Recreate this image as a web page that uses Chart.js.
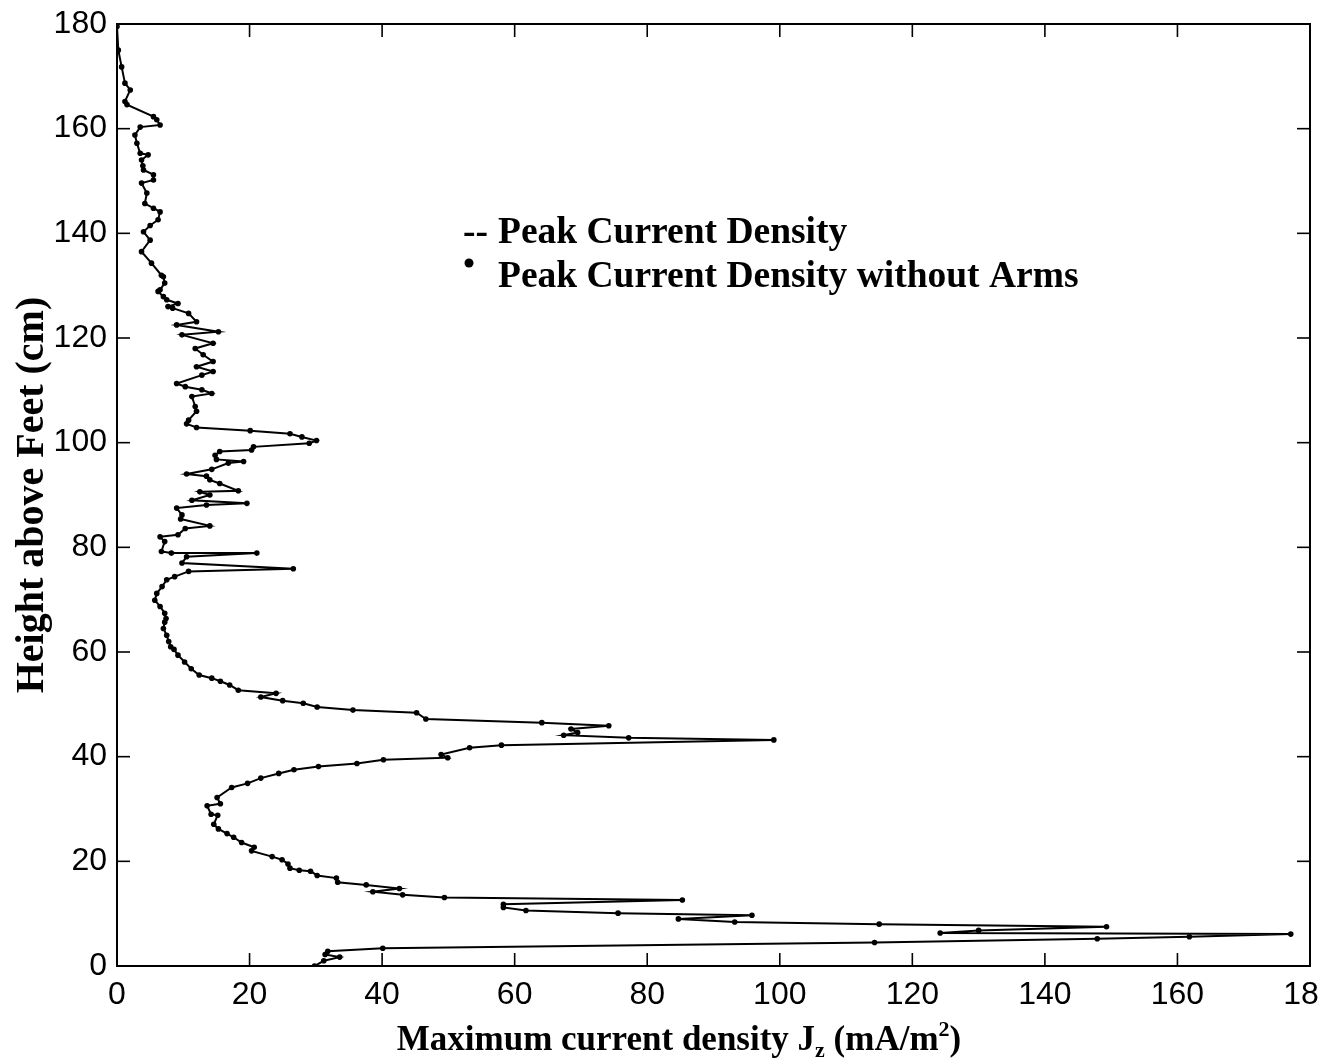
<!DOCTYPE html>
<html>
<head>
<meta charset="utf-8">
<script src="https://cdn.jsdelivr.net/npm/chart.js@4.4.1/dist/chart.umd.min.js"></script>
<style>
  html, body { margin: 0; padding: 0; background: #fff; }
  #wrap { width: 1320px; height: 1063px; }
</style>
</head>
<body>
<div id="wrap"><canvas id="c" width="1320" height="1063"></canvas></div>
<script>
// Maximum current density Jz (mA/m^2), ordered along the curve from the feet up
const currentDensity = [
  29.8, 31.2, 33.6, 31.4, 31.8, 40.1, 114.3, 147.9, 161.8, 177.1,
  124.2, 130.0, 149.3, 115.0, 93.2, 84.7, 95.8, 75.6, 61.7, 58.3,
  58.3, 85.3, 49.4, 43.1, 38.6, 42.6, 37.6, 33.3, 33.1, 30.2,
  29.2, 27.5, 26.1, 25.8, 24.9, 23.4, 20.3, 20.7, 18.8, 17.6,
  16.6, 15.3, 14.6, 15.2, 14.2, 13.6, 15.6, 15.1, 17.3, 19.7,
  21.7, 24.4, 26.7, 30.4, 36.2, 40.2, 49.9, 48.9, 53.2, 58.0,
  99.1, 77.2, 67.4, 69.5, 68.5, 74.2, 64.1, 46.6, 45.2, 35.6,
  30.2, 28.1, 25.0, 21.7, 24.0, 18.3, 17.0, 15.6, 14.3, 12.4,
  11.2, 10.2, 9.2, 8.6, 8.1, 7.8, 7.5, 7.0, 7.2, 7.4,
  7.2, 6.5, 5.7, 6.0, 6.8, 7.5, 8.7, 10.8, 26.6, 9.8,
  10.5, 21.1, 8.2, 6.7, 7.2, 6.5, 9.2, 10.3, 14.0, 9.6,
  9.8, 9.0, 13.5, 19.6, 11.3, 14.0, 12.5, 18.3, 15.5, 14.0,
  13.5, 10.5, 14.3, 16.8, 19.1, 15.0, 14.8, 15.5, 20.3, 20.6,
  29.0, 30.1, 27.9, 26.1, 20.1, 12.0, 10.5, 10.8, 12.0, 11.8,
  11.3, 14.3, 12.8, 10.3, 9.0, 12.8, 14.5, 12.0, 14.5, 13.0,
  11.8, 14.5, 9.8, 15.3, 9.0, 12.0, 10.8, 8.4, 7.7, 9.2,
  7.5, 7.0, 6.2, 6.5, 7.2, 7.0, 6.7, 5.2, 3.7, 5.0,
  4.0, 5.0, 6.2, 6.5, 5.5, 4.2, 4.5, 3.7, 5.5, 5.5,
  4.0, 3.9, 3.7, 4.7, 3.5, 3.0, 2.7, 3.5, 6.5, 6.0,
  5.5, 1.5, 1.2, 2.0, 1.2, 0.7, 0.2, 0.0
];
// Height above feet (cm) for each point above
const heightCm = [
  0.0, 1.0, 1.7, 2.2, 2.8, 3.4, 4.5, 5.2, 5.6, 6.1,
  6.3, 6.8, 7.5, 8.0, 8.4, 9.0, 9.7, 10.1, 10.6, 11.2,
  11.8, 12.6, 13.1, 13.6, 14.2, 14.8, 15.5, 16.0, 16.8, 17.3,
  18.1, 18.3, 18.7, 19.5, 20.3, 20.9, 22.0, 22.7, 23.6, 24.6,
  25.3, 26.2, 27.1, 28.8, 29.0, 30.6, 31.0, 32.2, 34.1, 34.9,
  35.9, 36.8, 37.5, 38.1, 38.7, 39.4, 39.8, 40.4, 41.7, 42.2,
  43.2, 43.6, 44.1, 44.6, 45.3, 45.9, 46.5, 47.2, 48.4, 48.9,
  49.5, 50.2, 50.7, 51.4, 52.1, 52.7, 53.7, 54.4, 55.0, 55.6,
  56.8, 58.1, 59.4, 60.5, 61.0, 62.0, 63.2, 64.5, 65.7, 66.4,
  67.4, 68.7, 69.9, 71.2, 72.5, 73.8, 74.4, 75.4, 75.9, 77.0,
  78.2, 78.9, 78.9, 79.2, 81.1, 82.0, 82.4, 83.6, 84.1, 85.4,
  86.2, 87.5, 88.1, 88.4, 89.0, 90.0, 90.6, 90.8, 92.2, 92.9,
  93.6, 94.0, 94.9, 96.1, 96.4, 96.8, 97.6, 98.3, 98.6, 99.2,
  99.9, 100.4, 101.1, 101.7, 102.3, 102.9, 103.6, 104.3, 106.0, 106.9,
  108.8, 109.4, 110.1, 110.7, 111.3, 112.9, 113.6, 114.5, 115.5, 116.8,
  118.0, 119.0, 120.6, 121.2, 122.5, 123.1, 124.7, 125.7, 126.0, 126.6,
  127.3, 127.9, 128.9, 129.2, 130.5, 131.7, 132.0, 134.3, 136.5, 138.7,
  140.3, 141.5, 142.6, 144.1, 144.8, 145.7, 147.7, 149.6, 150.2, 151.2,
  152.1, 152.9, 154.0, 155.0, 155.3, 157.2, 158.8, 160.3, 160.7, 161.7,
  162.3, 164.6, 165.2, 167.4, 168.7, 171.8, 175.0, 179.5
];
const xTickValues = [0, 20, 40, 60, 80, 100, 120, 140, 160, 180];
const yTickValues = [0, 20, 40, 60, 80, 100, 120, 140, 160, 180];
const seriesNames = ['Peak Current Density', 'Peak Current Density without Arms'];
const xTitleParts = ['Maximum current density J', 'z', ' (mA/m', '2', ')'];
const yTitle = 'Height above Feet (cm)';

const points = currentDensity.map((v, i) => ({ x: v, y: heightCm[i] }));

const SANS = '"Liberation Sans", Arial, sans-serif';
const SERIF = '"Liberation Serif", "Times New Roman", serif';

const decor = {
  id: 'decor',
  afterDraw(chart) {
    const { ctx, chartArea: a, scales: { x, y } } = chart;
    ctx.save();
    ctx.strokeStyle = '#000';
    ctx.fillStyle = '#000';
    ctx.lineWidth = 2;
    ctx.strokeRect(a.left, a.top, a.right - a.left, a.bottom - a.top);
    ctx.lineWidth = 1.6;
    const seg = (x1, y1, x2, y2) => { ctx.beginPath(); ctx.moveTo(x1, y1); ctx.lineTo(x2, y2); ctx.stroke(); };
    xTickValues.forEach(v => {
      const px = x.getPixelForValue(v);
      seg(px, a.bottom, px, a.bottom - 13);
      seg(px, a.top, px, a.top + 13);
    });
    yTickValues.forEach(v => {
      const py = y.getPixelForValue(v);
      seg(a.left, py, a.left + 13, py);
      seg(a.right, py, a.right - 13, py);
    });

    // legend (text)
    ctx.font = 'bold 37.5px ' + SERIF;
    ctx.textBaseline = 'alphabetic';
    ctx.textAlign = 'left';
    ctx.fillText('--', 463, 243);
    ctx.fillText(seriesNames[0], 498, 243);
    ctx.beginPath(); ctx.arc(469, 263, 4.5, 0, Math.PI * 2); ctx.fill();
    ctx.fillText(seriesNames[1], 498, 287);

    // x title with subscript / superscript
    const big = 'bold 35px ' + SERIF, small = 'bold 22px ' + SERIF;
    const fonts = [big, small, big, small, big];
    const shifts = [0, 7, 0, -14, 0];
    let total = 0;
    const widths = xTitleParts.map((t, i) => { ctx.font = fonts[i]; const w = ctx.measureText(t).width; total += w; return w; });
    let cx = 679 - total / 2;
    xTitleParts.forEach((t, i) => {
      ctx.font = fonts[i];
      ctx.fillText(t, cx, 1050 + shifts[i]);
      cx += widths[i];
    });

    // y title
    ctx.translate(43, (a.top + a.bottom) / 2);
    ctx.rotate(-Math.PI / 2);
    ctx.font = 'bold 40px ' + SERIF;
    ctx.textAlign = 'center';
    ctx.fillText(yTitle, 0, 0);
    ctx.restore();
  }
};

new Chart(document.getElementById('c'), {
  type: 'scatter',
  data: {
    datasets: [
      {
        label: seriesNames[0],
        data: points,
        showLine: true,
        borderColor: '#000',
        borderWidth: 2,
        pointRadius: 0,
        tension: 0
      },
      {
        label: seriesNames[1],
        data: points,
        showLine: false,
        pointRadius: 2.8,
        pointBackgroundColor: '#000',
        pointBorderColor: '#000',
        pointBorderWidth: 0
      }
    ]
  },
  options: {
    responsive: false,
    animation: false,
    devicePixelRatio: 1,
    layout: { padding: { top: 24, right: 10, left: 0, bottom: 0 } },
    plugins: { legend: { display: false }, tooltip: { enabled: false } },
    scales: {
      x: {
        type: 'linear', min: 0, max: 180,
        afterBuildTicks: s => { s.ticks = xTickValues.map(v => ({ value: v })); },
        ticks: { font: { family: SANS, size: 32 }, color: '#000', padding: 10, maxRotation: 0, autoSkip: false },
        grid: { display: false, drawTicks: false },
        border: { display: false },
        afterFit: s => { s.height = 97; s.paddingLeft = 0; s.paddingRight = 0; }
      },
      y: {
        type: 'linear', min: 0, max: 180,
        afterBuildTicks: s => { s.ticks = yTickValues.map(v => ({ value: v })); },
        ticks: { font: { family: SANS, size: 32 }, color: '#000', padding: 10, autoSkip: false },
        grid: { display: false, drawTicks: false },
        border: { display: false },
        afterFit: s => { s.width = 117; s.paddingTop = 0; s.paddingBottom = 0; }
      }
    }
  },
  plugins: [decor]
});
</script>
</body>
</html>
